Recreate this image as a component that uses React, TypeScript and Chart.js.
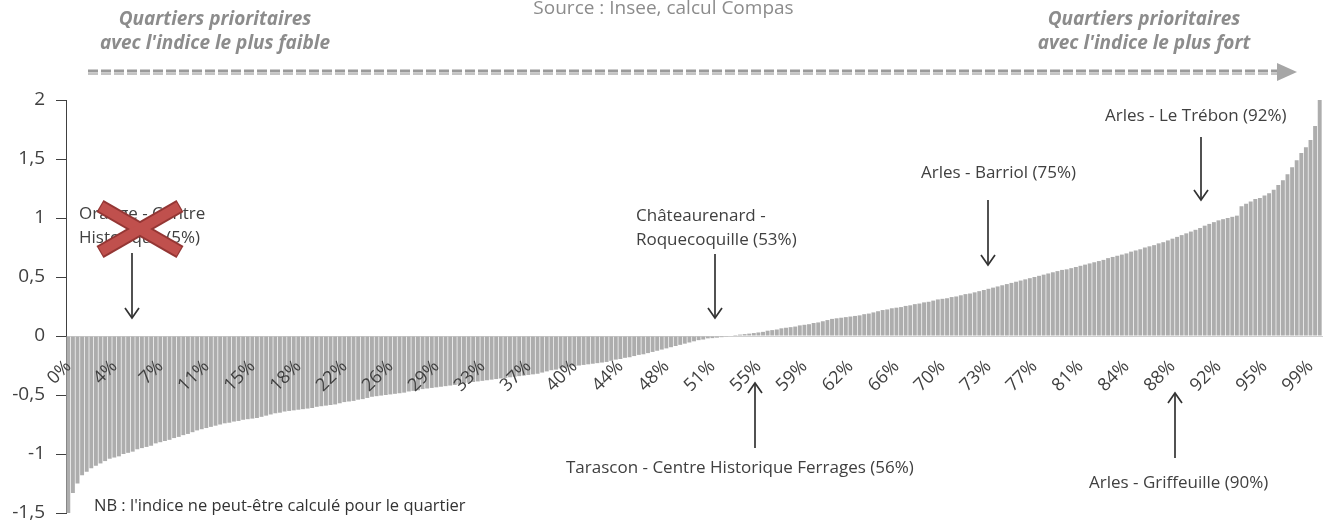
import React, { useEffect, useRef } from "react";
import { Chart, registerables } from "chart.js";

Chart.register(...registerables);

// Tick labels shown every TICK_EVERY categories (percentile rank of the quartier)
const TICK_LABELS = [
  "0%", "4%", "7%", "11%", "15%", "18%", "22%", "26%", "29%", "33%", "37%", "40%", "44%", "48%",
  "51%", "55%", "59%", "62%", "66%", "70%", "73%", "77%", "81%", "84%", "88%", "92%", "95%", "99%",
];
const TICK_EVERY = 10;

// Sorted index values of the quartiers prioritaires
const INDEX_VALUES = [
  -1.52, -1.33, -1.25, -1.18, -1.15, -1.12, -1.10, -1.08, -1.06, -1.04,
  -1.03, -1.02, -1.00, -0.99, -0.98, -0.96, -0.95, -0.94, -0.93, -0.91,
  -0.90, -0.89, -0.88, -0.865, -0.855, -0.84, -0.83, -0.815, -0.80, -0.79,
  -0.78, -0.77, -0.76, -0.75, -0.74, -0.735, -0.725, -0.72, -0.71, -0.705,
  -0.70, -0.695, -0.685, -0.675, -0.665, -0.655, -0.65, -0.64, -0.635, -0.63,
  -0.625, -0.62, -0.615, -0.61, -0.60, -0.595, -0.59, -0.585, -0.58, -0.57,
  -0.56, -0.555, -0.55, -0.54, -0.535, -0.525, -0.515, -0.51, -0.505, -0.50,
  -0.495, -0.49, -0.485, -0.48, -0.47, -0.465, -0.46, -0.45, -0.445, -0.44,
  -0.435, -0.43, -0.425, -0.42, -0.415, -0.41, -0.40, -0.395, -0.39, -0.385,
  -0.38, -0.375, -0.37, -0.365, -0.36, -0.355, -0.35, -0.345, -0.34, -0.335,
  -0.33, -0.325, -0.32, -0.31, -0.30, -0.29, -0.285, -0.275, -0.27, -0.26,
  -0.255, -0.25, -0.245, -0.24, -0.235, -0.23, -0.225, -0.22, -0.21, -0.20,
  -0.195, -0.185, -0.18, -0.17, -0.16, -0.155, -0.145, -0.135, -0.125, -0.115,
  -0.105, -0.095, -0.085, -0.075, -0.065, -0.055, -0.045, -0.035, -0.03, -0.02,
  -0.018, -0.014, -0.01, -0.006, 0.004, 0.008, 0.012, 0.016, 0.02, 0.025,
  0.03, 0.035, 0.045, 0.05, 0.055, 0.065, 0.07, 0.075, 0.08, 0.09,
  0.095, 0.10, 0.11, 0.115, 0.125, 0.135, 0.145, 0.15, 0.155, 0.16,
  0.165, 0.17, 0.175, 0.185, 0.19, 0.20, 0.21, 0.22, 0.225, 0.235,
  0.24, 0.245, 0.255, 0.26, 0.27, 0.275, 0.285, 0.29, 0.30, 0.31,
  0.315, 0.32, 0.33, 0.335, 0.345, 0.355, 0.36, 0.37, 0.38, 0.39,
  0.40, 0.41, 0.42, 0.43, 0.44, 0.45, 0.46, 0.47, 0.48, 0.49,
  0.50, 0.51, 0.52, 0.53, 0.54, 0.55, 0.56, 0.565, 0.575, 0.585,
  0.595, 0.605, 0.615, 0.625, 0.635, 0.645, 0.66, 0.67, 0.68, 0.69,
  0.70, 0.715, 0.725, 0.735, 0.75, 0.76, 0.77, 0.785, 0.795, 0.81,
  0.825, 0.84, 0.855, 0.87, 0.885, 0.90, 0.915, 0.935, 0.95, 0.965,
  0.98, 0.99, 1.0, 1.01, 1.02, 1.10, 1.12, 1.14, 1.16, 1.17,
  1.19, 1.21, 1.24, 1.28, 1.32, 1.37, 1.43, 1.49, 1.55, 1.60,
  1.66, 1.78, 2.0,
];

const CATEGORIES = INDEX_VALUES.map((_, i) =>
  i % TICK_EVERY === 0 && TICK_LABELS[i / TICK_EVERY] ? TICK_LABELS[i / TICK_EVERY] : ""
);

const FONT = "'Open Sans', 'DejaVu Sans', sans-serif";
const TEXT = "#404040";

const annot: React.CSSProperties = {
  position: "absolute",
  fontFamily: FONT,
  fontSize: 17,
  lineHeight: "24px",
  color: TEXT,
  whiteSpace: "nowrap",
};

const title: React.CSSProperties = {
  position: "absolute",
  fontFamily: FONT,
  fontSize: 19,
  fontWeight: 700,
  fontStyle: "italic",
  lineHeight: "24px",
  color: "#8c8c8c",
  width: 400,
  textAlign: "center",
  whiteSpace: "nowrap",
};

function Arrow({ x, y1, y2 }: { x: number; y1: number; y2: number }) {
  const dir = y2 > y1 ? -1 : 1;
  return (
    <g stroke="#333" strokeWidth={1.7} fill="none">
      <line x1={x} y1={y1} x2={x} y2={y2} />
      <polyline points={`${x - 7},${y2 + dir * 10} ${x},${y2} ${x + 7},${y2 + dir * 10}`} />
    </g>
  );
}

export default function App() {
  const ref = useRef<HTMLCanvasElement>(null);

  useEffect(() => {
    const chart = new Chart(ref.current!, {
      type: "bar",
      data: {
        labels: CATEGORIES,
        datasets: [
          {
            data: INDEX_VALUES,
            backgroundColor: "#adadad",
            borderWidth: 0,
            barPercentage: 0.85,
            categoryPercentage: 1,
          },
        ],
      },
      options: {
        animation: false,
        responsive: false,
        devicePixelRatio: 1,
        layout: { padding: { left: 0, right: 5, top: 100, bottom: 32 } },
        plugins: { legend: { display: false }, tooltip: { enabled: false } },
        scales: {
          x: {
            position: { y: 0 } as any,
            afterFit: (s: any) => {
              s.paddingLeft = 0;
              s.paddingRight = 0;
            },
            grid: { display: false, drawTicks: false },
            border: { display: true, color: "#d0d0d0" },
            ticks: {
              z: 1,
              autoSkip: false,
              maxRotation: 45,
              minRotation: 45,
              padding: 20,
              color: TEXT,
              font: { family: FONT, size: 18 },
            } as any,
          },
          y: {
            min: -1.5,
            max: 2,
            afterFit: (s: any) => {
              s.width = 66;
            },
            ticks: {
              stepSize: 0.5,
              padding: 11,
              color: TEXT,
              font: { family: FONT, size: 19 },
              callback: (v: any) => String(v).replace(".", ","),
            },
            grid: { drawOnChartArea: false, drawTicks: true, tickLength: 10, color: TEXT },
            border: { display: true, color: TEXT },
          },
        },
      },
    });
    return () => chart.destroy();
  }, []);

  return (
    <div
      style={{
        position: "fixed",
        left: 0,
        top: 0,
        width: 1327,
        height: 521,
        overflow: "hidden",
        background: "#fff",
      }}
    >
      <canvas ref={ref} width={1327} height={545} style={{ position: "absolute", left: 0, top: 0 }} />

      <div style={{ ...annot, left: 0, width: 1327, textAlign: "center", top: -5, fontSize: 19, color: "#8c8c8c" }}>
        Source : Insee, calcul Compas
      </div>
      <div style={{ ...title, left: 15, top: 6 }}>
        Quartiers prioritaires
        <br />
        avec l'indice le plus faible
      </div>
      <div style={{ ...title, left: 944, top: 6 }}>
        Quartiers prioritaires
        <br />
        avec l'indice le plus fort
      </div>

      <div style={{ ...annot, left: 79, top: 201 }}>
        Orange - Centre
        <br />
        Historique (5%)
      </div>
      <div style={{ ...annot, left: 636, top: 203 }}>
        Châteaurenard -
        <br />
        Roquecoquille (53%)
      </div>
      <div style={{ ...annot, left: 921, top: 160 }}>Arles - Barriol (75%)</div>
      <div style={{ ...annot, left: 1105, top: 103 }}>Arles - Le Trébon (92%)</div>
      <div style={{ ...annot, left: 566, top: 455 }}>Tarascon - Centre Historique Ferrages (56%)</div>
      <div style={{ ...annot, left: 1089, top: 470 }}>Arles - Griffeuille (90%)</div>
      <div style={{ ...annot, left: 94, top: 493, fontSize: 16.5, color: "#333" }}>
        NB : l'indice ne peut-être calculé pour le quartier
      </div>

      <svg
        width={1327}
        height={521}
        style={{ position: "absolute", left: 0, top: 0, pointerEvents: "none" }}
      >
        <line x1={88} y1={71} x2={1278} y2={71} stroke="#9a9a9a" strokeWidth={3} strokeDasharray="10 3" />
        <line x1={88} y1={74} x2={1278} y2={74} stroke="#c4c4c4" strokeWidth={2} strokeDasharray="10 3" />
        <polygon points="1277,63 1297,72 1277,81" fill="#a6a6a6" />

        <Arrow x={132} y1={253} y2={318} />
        <Arrow x={715} y1={254} y2={318} />
        <Arrow x={988} y1={200} y2={265} />
        <Arrow x={1201} y1={137} y2={200} />
        <Arrow x={755} y1={448} y2={383} />
        <Arrow x={1175} y1={458} y2={393} />

        <g strokeLinecap="butt">
          <line x1={100} y1={206} x2={180} y2={252} stroke="#943634" strokeWidth={14} />
          <line x1={100} y1={252} x2={180} y2={206} stroke="#943634" strokeWidth={14} />
          <line x1={101} y1={206.6} x2={179} y2={251.4} stroke="#c0504d" strokeWidth={10} />
          <line x1={101} y1={251.4} x2={179} y2={206.6} stroke="#c0504d" strokeWidth={10} />
        </g>
      </svg>
    </div>
  );
}
